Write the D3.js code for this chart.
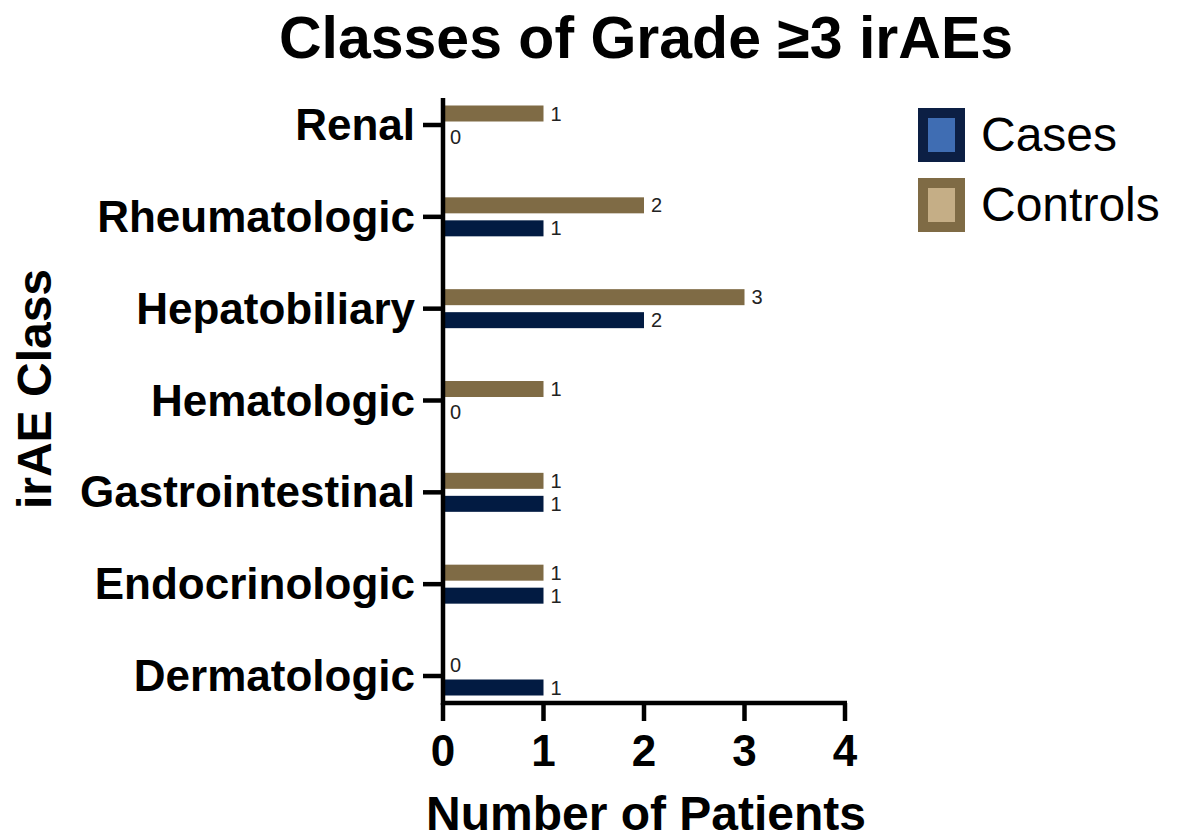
<!DOCTYPE html>
<html>
<head>
<meta charset="utf-8">
<script src="https://cdn.jsdelivr.net/npm/d3@7"></script>
<style>
  body { margin: 0; background: #fff; }
  svg { display: block; font-family: Arial, "Liberation Sans", sans-serif; }
</style>
</head>
<body>
<svg id="chart" width="1179" height="839"></svg>
<script>
// data, bottom category first
var categories = ['Dermatologic', 'Endocrinologic', 'Gastrointestinal', 'Hematologic', 'Hepatobiliary', 'Rheumatologic', 'Renal'];
var cases = [1, 1, 1, 0, 2, 1, 0];
var controls = [0, 1, 1, 1, 3, 2, 1];
var xTicks = [0, 1, 2, 3, 4];
var seriesNames = ['Cases', 'Controls'];

var colors = {
    Cases: { bar: '#021b42', border: '#0c1f44', inner: '#3f6db3' },
    Controls: { bar: '#7f6b45', border: '#7f6b45', inner: '#c5ae86' }
};

var svg = d3.select('#chart');
var x0 = 443, x1 = 845, yAxisTop = 98, yAxisBottom = 703;

var x = d3.scaleLinear().domain([0, 4]).range([x0, x1]);
var y = d3.scalePoint().domain(categories).range([676, 125]);
var barH = 16, gap = 7;

// title
svg.append('text')
    .attr('x', 646).attr('y', 58)
    .attr('text-anchor', 'middle')
    .style('font-size', '59px').style('font-weight', 'bold')
    .text('Classes of Grade \u22653 irAEs');

// bars
var rows = categories.map(function (c, i) {
    return { cat: c, cases: cases[i], controls: controls[i] };
});

var group = svg.append('g').attr('class', 'bars');
rows.forEach(function (d) {
    var cy = y(d.cat);
    var spec = [
        { key: 'Controls', v: d.controls, top: cy - gap / 2 - barH },
        { key: 'Cases', v: d.cases, top: cy + gap / 2 }
    ];
    spec.forEach(function (s) {
        if (s.v > 0) {
            group.append('rect')
                .attr('x', x(0))
                .attr('y', s.top)
                .attr('width', x(s.v) - x(0))
                .attr('height', barH)
                .attr('fill', colors[s.key].bar);
        }
        group.append('text')
            .attr('x', x(s.v) + 7)
            .attr('y', s.top + barH / 2 + 7)
            .style('font-size', '20px')
            .attr('fill', '#222')
            .text(s.v);
    });
});

// y axis
var yAxis = svg.append('g').attr('class', 'y-axis');
yAxis.append('line')
    .attr('x1', x0).attr('x2', x0)
    .attr('y1', yAxisTop).attr('y2', yAxisBottom + 2)
    .attr('stroke', '#000').attr('stroke-width', 4.5);
yAxis.selectAll('.ytick').data(categories).enter().append('line')
    .attr('class', 'ytick')
    .attr('x1', x0 - 20).attr('x2', x0)
    .attr('y1', function (d) { return y(d); })
    .attr('y2', function (d) { return y(d); })
    .attr('stroke', '#000').attr('stroke-width', 4.5);
yAxis.selectAll('.ylabel').data(categories).enter().append('text')
    .attr('class', 'ylabel')
    .attr('x', 415)
    .attr('y', function (d) { return y(d) + 15; })
    .attr('text-anchor', 'end')
    .style('font-size', '44px').style('font-weight', 'bold')
    .text(function (d) { return d; });

// x axis
var xAxis = svg.append('g').attr('class', 'x-axis');
xAxis.append('line')
    .attr('x1', x0 - 2).attr('x2', x1 + 2)
    .attr('y1', yAxisBottom).attr('y2', yAxisBottom)
    .attr('stroke', '#000').attr('stroke-width', 4.5);
xAxis.selectAll('.xtick').data(xTicks).enter().append('line')
    .attr('class', 'xtick')
    .attr('x1', function (d) { return x(d); })
    .attr('x2', function (d) { return x(d); })
    .attr('y1', yAxisBottom).attr('y2', 721)
    .attr('stroke', '#000').attr('stroke-width', 4.5);
xAxis.selectAll('.xlabel').data(xTicks).enter().append('text')
    .attr('class', 'xlabel')
    .attr('x', function (d) { return x(d); })
    .attr('y', 766)
    .attr('text-anchor', 'middle')
    .style('font-size', '44px').style('font-weight', 'bold')
    .text(function (d) { return d; });

// axis titles
svg.append('text')
    .attr('x', 646).attr('y', 830)
    .attr('text-anchor', 'middle')
    .style('font-size', '48px').style('font-weight', 'bold')
    .text('Number of Patients');
svg.append('text')
    .attr('transform', 'translate(51,389) rotate(-90)')
    .attr('text-anchor', 'middle')
    .style('font-size', '48px').style('font-weight', 'bold')
    .text('irAE Class');

// legend
var legend = svg.append('g').attr('class', 'legend');
seriesNames.forEach(function (name, i) {
    var top = 108 + i * 70;
    legend.append('rect')
        .attr('x', 923).attr('y', top + 5)
        .attr('width', 37).attr('height', 44)
        .attr('fill', colors[name].inner)
        .attr('stroke', colors[name].border)
        .attr('stroke-width', 10);
    legend.append('text')
        .attr('x', 981).attr('y', top + 43)
        .style('font-size', '48px')
        .text(name);
});
</script>
</body>
</html>
